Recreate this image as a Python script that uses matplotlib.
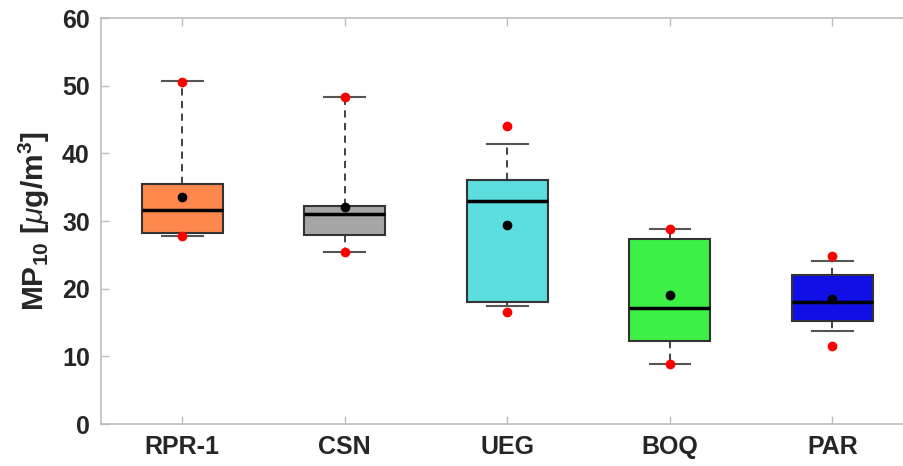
import matplotlib
matplotlib.use("Agg")
import matplotlib.pyplot as plt

# Station labels and box statistics (ug/m3)
labels = ["RPR-1", "CSN", "UEG", "BOQ", "PAR"]
q1 = [28.3, 27.9, 18.1, 12.2, 15.3]
med = [31.6, 31.1, 32.9, 17.1, 18.1]
q3 = [35.5, 32.3, 36.0, 27.3, 22.0]
whislo = [27.8, 25.4, 17.5, 8.8, 13.7]
whishi = [50.7, 48.3, 41.4, 28.8, 24.1]
means = [33.6, 32.05, 29.4, 19.0, 18.5]
mins = [27.8, 25.4, 16.6, 8.8, 11.6]
maxs = [50.6, 48.3, 44.1, 28.8, 24.9]

colors = ["#FF884D", "#A6A6A6", "#5CDEDE", "#3DF046", "#1010E6"]

plt.rcParams["font.family"] = ["Liberation Sans", "DejaVu Sans"]
plt.rcParams["mathtext.fontset"] = "custom"
plt.rcParams["mathtext.rm"] = "Liberation Sans:bold"
plt.rcParams["mathtext.bf"] = "Liberation Sans:bold"
plt.rcParams["mathtext.it"] = "Liberation Sans:italic"

fig = plt.figure(figsize=(9.04, 4.66), dpi=100)
ax = fig.add_axes([0.1117, 0.0901, 0.899, 0.871])

stats = []
for i, lab in enumerate(labels):
    stats.append({"label": lab, "q1": q1[i], "med": med[i], "q3": q3[i],
                  "whislo": whislo[i], "whishi": whishi[i], "fliers": []})

pos = list(range(1, len(labels) + 1))
bp = ax.bxp(stats, positions=pos, widths=0.5, patch_artist=True,
            showfliers=False,
            boxprops=dict(edgecolor="#333333", linewidth=1.5),
            medianprops=dict(color="black", linewidth=2.5),
            whiskerprops=dict(color="#333333", linewidth=1.3, linestyle=(0, (4, 3))),
            capprops=dict(color="#555555", linewidth=1.5),
            capwidths=0.25)
for patch, c in zip(bp["boxes"], colors):
    patch.set_facecolor(c)

ax.plot(pos, maxs, "o", color="red", markersize=6, zorder=5)
ax.plot(pos, mins, "o", color="red", markersize=6, zorder=5)
ax.plot(pos, means, "o", color="black", markersize=6, zorder=6)

ax.set_xlim(0.5, 5.5)
ax.set_ylim(0, 60)
ax.set_yticks(range(0, 61, 10))
ax.set_xticks(pos)
ax.set_xticklabels(labels)

for s in ax.spines.values():
    s.set_color("#bdbdbd")
    s.set_linewidth(1.2)
ax.tick_params(direction="in", length=6, width=1, color="#bdbdbd",
               labelcolor="#262626", labelsize=18, top=True, right=True, pad=8)
for t in ax.get_xticklabels() + ax.get_yticklabels():
    t.set_fontweight("bold")

ax.set_ylabel(r"MP$_{10}$ [$\mu$g/m$^3$]", fontsize=21.5, fontweight="bold",
              color="#262626", labelpad=7)

fig.savefig("out.png", dpi=100)
